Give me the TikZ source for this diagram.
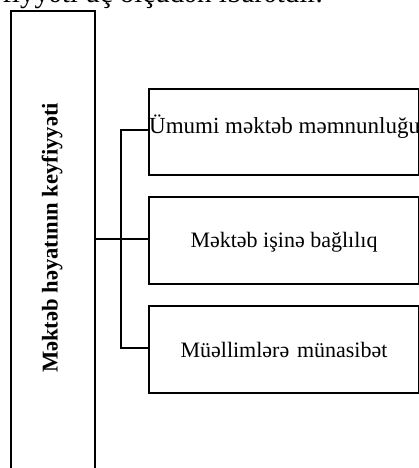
\documentclass[tikz,border=0pt]{standalone}
\usepackage{fontspec}
\setmainfont{Liberation Serif}
\begin{document}
\begin{tikzpicture}[x=1pt,y=-1pt,
  box/.style={draw, line width=1.8pt, inner sep=0pt, anchor=north west},
  conn/.style={line width=1.1pt},
  boxtext/.style={font=\fontsize{22}{26}\selectfont, inner sep=0pt},
]
\useasboundingbox (0,0) rectangle (419,468);
\clip (0,0) rectangle (419,468);
% top partial text line
\node[font=\fontsize{29}{34}\selectfont, inner sep=0pt, anchor=base east] (top) at (323,3) {keyfiyyəti üç ölçüdən ibarətdir.};
% main box
\node[box, minimum width=84pt, minimum height=490pt] (main) at (10,10) {};
\node[font=\bfseries\fontsize{22.6}{26}\selectfont, rotate=90, inner sep=0pt] (maintext) at (52,238) {Məktəb həyatının keyfiyyəti};
% right boxes
\node[box, minimum width=270pt, minimum height=86pt] (b1) at (148,88) {};
\node[box, minimum width=270pt, minimum height=87pt] (b2) at (148,196) {};
\node[box, minimum width=270pt, minimum height=87pt] (b3) at (148,305) {};
\node[boxtext, font=\fontsize{23}{27}\selectfont, anchor=base west] (t1) at (149,133) {Ümumi məktəb məmnunluğu};
\node[boxtext, anchor=base] (t2) at (284,247) {Məktəb işinə bağlılıq};
\node[boxtext, anchor=base] (t3) at (284,357) {Müəllimlərə\hspace{0.1em} münasibət};
% connectors
\coordinate (j) at (121,239);
\draw[conn] (main.east |- j) -- (b2.west |- j);
\draw[conn] (b1.west |- 0,130) -| (j) |- (b3.west |- 0,348);
\end{tikzpicture}
\end{document}
